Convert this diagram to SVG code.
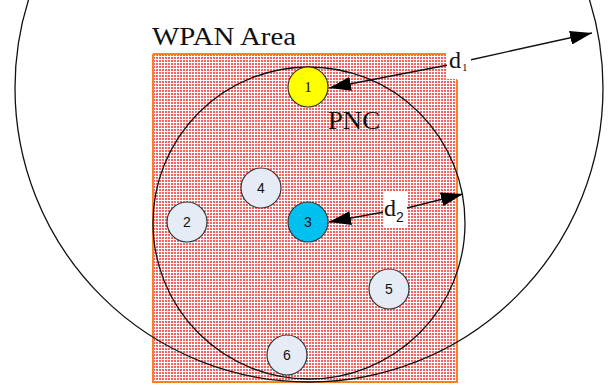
<svg xmlns="http://www.w3.org/2000/svg" width="613" height="385" viewBox="0 0 613 385">
<style>
.ring{fill:none;stroke:#111;stroke-width:1.3}
.node{stroke:#333;stroke-width:1.2}
.plain{fill:#e6ecf6}
.num{font-family:"Liberation Sans",Arial,sans-serif;font-size:14px;text-anchor:middle;fill:#111}
.serif{font-family:"Liberation Serif","Times New Roman",serif;fill:#111}
.arrow{fill:none;stroke:#111;stroke-width:1.4}
.border{fill:none;stroke:#ff7f27;stroke-width:2}
</style>
<defs>
<pattern id="dots" width="3" height="3" patternUnits="userSpaceOnUse">
<rect width="3" height="3" fill="#fff"/>
<rect x="0" y="0" width="2" height="2" fill="#f46464"/>
</pattern>
<marker id="ah" markerUnits="userSpaceOnUse" markerWidth="22" markerHeight="14" refX="22" refY="7" orient="auto">
<path d="M0,0 L22,7 L0,14 Z" fill="#000"/>
</marker>
</defs>
<g id="area">
<rect x="153" y="54" width="304" height="328" fill="url(#dots)"/>
<path class="border" d="M153,54 H446 M457,80 V382 H153 V54"/>
<text class="serif" x="152" y="45" font-size="26" textLength="144" lengthAdjust="spacingAndGlyphs">WPAN Area</text>
</g>
<g id="ranges">
<circle class="ring" cx="309" cy="88" r="294"/>
<circle class="ring" cx="309" cy="223" r="156"/>
</g>
<g id="connectors">
<line class="arrow" x1="448" y1="65" x2="329" y2="88" marker-end="url(#ah)"/>
<line class="arrow" x1="470" y1="60" x2="592" y2="33" marker-end="url(#ah)"/>
<line class="arrow" x1="384" y1="212" x2="329" y2="222" marker-end="url(#ah)"/>
<line class="arrow" x1="407" y1="208" x2="463" y2="194" marker-end="url(#ah)"/>
</g>
<g id="label-d1">
<rect x="447" y="44" width="24" height="35" fill="#fff"/>
<text class="serif" x="449" y="68" font-size="24">d</text>
<text class="serif" x="462" y="71" font-size="11" fill="#888">1</text>
</g>
<g id="label-d2">
<rect x="383" y="192" width="24" height="35" fill="#fff"/>
<text class="serif" x="384" y="216" font-size="24">d</text>
<text x="396" y="222" font-size="14" font-family="Liberation Sans,Arial,sans-serif" fill="#111">2</text>
</g>
<g id="node1">
<circle class="node" cx="308" cy="87" r="20" fill="#ffff00"/>
<text class="serif" x="308" y="92" font-size="15" text-anchor="middle">1</text>
</g>
<g id="pnc-label">
<text class="serif" x="328" y="129" font-size="26" textLength="52" lengthAdjust="spacingAndGlyphs">PNC</text>
</g>
<g id="node2">
<circle class="node plain" cx="187" cy="222" r="20"/>
<text class="num" x="187" y="227">2</text>
</g>
<g id="node3">
<circle class="node" cx="308" cy="222" r="20" fill="#00c0f0"/>
<text class="num" x="308" y="227">3</text>
</g>
<g id="node4">
<circle class="node plain" cx="261" cy="188" r="20"/>
<text class="num" x="261" y="193">4</text>
</g>
<g id="node5">
<circle class="node plain" cx="389" cy="289" r="20"/>
<text class="num" x="389" y="294">5</text>
</g>
<g id="node6">
<circle class="node plain" cx="287" cy="355" r="20"/>
<text class="num" x="287" y="360">6</text>
</g>
</svg>
